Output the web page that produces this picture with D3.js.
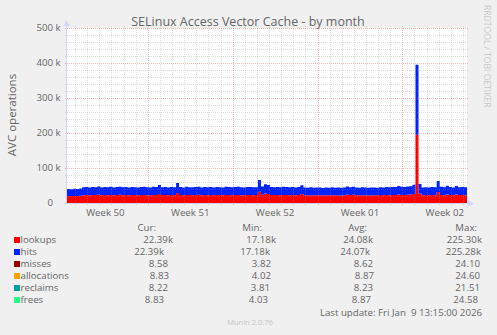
<!DOCTYPE html>
<html><head><meta charset="utf-8">
<script src="https://cdn.jsdelivr.net/npm/d3@7"></script>
<style>
html,body{margin:0;padding:0;background:#f0f0f0;}
svg{display:block;font-family:"Open Sans","Noto Sans",sans-serif;}
text{white-space:pre;}
</style></head><body><svg id="c" width="497" height="335"></svg>
<script>
// ---------- data ----------
const title = "SELinux Access Vector Cache - by month";
const yLabel = "AVC operations";
const startTime = "2025-12-08T08:00:00Z";
const endTime = "2026-01-10T08:00:00Z";
const stepHours = 6;
const yTickValues = [0, 100000, 200000, 300000, 400000, 500000];
const yTickNums = ["0", "100", "200", "300", "400", "500"];
const yTickUnits = ["", " k", " k", " k", " k", " k"];
// thousands of operations per second, one value per 6 hours
const lookups = [20.1, 19.8, 20.3, 20.0, 20.6,
  22.4, 22.8, 22.1, 23.0, 22.6, 23.4, 22.2, 22.9, 22.5, 23.1, 22.0, 22.7, 23.3, 22.4, 22.8, 22.1, 23.0, 22.6, 22.3, 22.9, 23.2, 22.5, 22.0, 23.1, 22.7,
  25.6,
  22.6, 22.9, 22.3, 23.0, 22.5,
  28.5,
  22.8, 22.2, 23.1, 22.6, 22.4, 22.9, 23.3, 22.1, 22.7, 22.5, 23.0, 22.3, 22.8, 22.6, 22.2, 23.1, 22.9, 22.4, 22.7, 23.2, 22.5, 22.0, 22.8, 23.0, 22.4, 22.6,
  32.0, 23.5, 26.8, 25.8,
  23.0, 22.6, 22.9, 22.4, 23.1, 22.7, 22.5, 23.0, 22.3, 22.8,
  25.5,
  22.1, 21.7, 22.4, 21.9, 22.0, 22.3, 21.6, 22.2, 21.8, 22.5,
  21.9, 22.2, 21.7, 22.0, 23.5, 22.6, 23.3, 22.1, 21.8, 22.4, 22.0, 21.7, 22.3, 22.1, 21.9, 22.6, 22.2, 22.8, 22.4, 23.0, 22.7, 24.3, 23.2, 22.9, 23.4, 24.0,
  26.0, 195.0, 27.0,
  22.3, 22.6, 22.1, 22.8, 22.4, 31.5, 23.2, 22.5, 24.6, 22.7, 22.3, 24.2, 22.6, 22.9, 22.4];
const hits = [20.1, 19.8, 20.3, 20.0, 20.6,
  22.4, 22.8, 22.1, 23.0, 22.6, 23.4, 22.2, 22.9, 22.5, 23.1, 22.0, 22.7, 23.3, 22.4, 22.8, 22.1, 23.0, 22.6, 22.3, 22.9, 23.2, 22.5, 22.0, 23.1, 22.7,
  25.6,
  22.6, 22.9, 22.3, 23.0, 22.5,
  28.5,
  22.8, 22.2, 23.1, 22.6, 22.4, 22.9, 23.3, 22.1, 22.7, 22.5, 23.0, 22.3, 22.8, 22.6, 22.2, 23.1, 22.9, 22.4, 22.7, 23.2, 22.5, 22.0, 22.8, 23.0, 22.4, 22.6,
  33.5, 23.5, 26.8, 25.8,
  23.0, 22.6, 22.9, 22.4, 23.1, 22.7, 22.5, 23.0, 22.3, 22.8,
  25.5,
  22.1, 21.7, 22.4, 21.9, 22.0, 22.3, 21.6, 22.2, 21.8, 22.5,
  21.9, 22.2, 21.7, 22.0, 23.5, 22.6, 23.3, 22.1, 21.8, 22.4, 22.0, 21.7, 22.3, 22.1, 21.9, 22.6, 22.2, 22.8, 22.4, 23.0, 22.7, 24.3, 23.2, 22.9, 23.4, 24.0,
  26.0, 200.0, 27.0,
  22.3, 22.6, 22.1, 22.8, 22.4, 31.5, 23.2, 22.5, 24.6, 22.7, 22.3, 24.2, 22.6, 22.9, 22.4];
const seriesNames = ["lookups", "hits", "misses", "allocations", "reclaims", "frees"];
const seriesColors = ["#ff0000", "#0022ff", "#990000", "#ffa500", "#00a0a0", "#22ff88"];
const legendHeaders = ["Cur:", "Min:", "Avg:", "Max:"];
const legendCur = ["22.39k", "22.39k", "8.58", "8.83", "8.22", "8.83"];
const legendMin = ["17.18k", "17.18k", "3.82", "4.02", "3.81", "4.03"];
const legendAvg = ["24.08k", "24.07k", "8.62", "8.87", "8.23", "8.87"];
const legendMax = ["225.30k", "225.28k", "24.10", "24.60", "21.51", "24.58"];
const lastUpdate = "Last update: Fri Jan  9 13:15:00 2026";
const watermark = "RRDTOOL / TOBI OETIKER";
const footer = "Munin 2.0.76";

// ---------- layout ----------
const X0 = 67, X1 = 467, Y0 = 203, Y1 = 28;
const FONT = "#666666";
const svg = d3.select("#c");

const t0 = new Date(startTime), t1 = new Date(endTime);
const x = d3.scaleUtc().domain([t0, t1]).range([X0, X1]);
const y = d3.scaleLinear().domain([0, 500000]).range([Y0, Y1]);

// table built from arrays
const rows = lookups.map((v, i) => ({
  t: new Date(t0.getTime() + i * stepHours * 3600e3),
  lookups: v * 1000, hits: hits[i] * 1000
}));
rows.push({t: t1, lookups: rows[rows.length - 1].lookups, hits: rows[rows.length - 1].hits});

// canvas
svg.append("rect").attr("x", X0).attr("y", Y1).attr("width", X1 - X0).attr("height", Y0 - Y1).attr("fill", "#fff");

// stacked areas
const stack = d3.stack().keys(["lookups", "hits"]);
const layers = stack(rows);
const area = d3.area().curve(d3.curveStepAfter)
  .x(d => x(d.data.t)).y0(d => y(d[0])).y1(d => y(d[1]));
svg.append("g").selectAll("path").data(layers).join("path")
  .attr("d", area).attr("fill", (d, i) => seriesColors[i]);

// grid (on top, like rrdtool)
const minorCol = "rgba(143,143,143,0.3)", majorCol = "rgba(222,79,79,0.4)";
const g = svg.append("g").attr("shape-rendering", "crispEdges");
const yMinor = y.ticks(25).filter(v => v % 100000 !== 0);
const yMajor = y.ticks(5);
const px = v => Math.round(v) + 0.5;
yMinor.forEach(v => {
  g.append("line").attr("x1", X0 - 2).attr("x2", X1 + 2).attr("y1", px(y(v))).attr("y2", px(y(v)))
    .attr("stroke", minorCol).attr("stroke-dasharray", "1,1");
});
const days = x.ticks(d3.utcDay.every(1));
const mondays = d3.utcMonday.range(t0, t1);
days.filter(d => d.getUTCDay() !== 1).forEach(d => {
  g.append("line").attr("x1", px(x(d))).attr("x2", px(x(d))).attr("y1", Y1 - 2).attr("y2", Y0 + 2)
    .attr("stroke", minorCol).attr("stroke-dasharray", "1,1");
});
yMajor.filter(v => v > 0).forEach(v => {
  g.append("line").attr("x1", X0 - 2).attr("x2", X1 + 2).attr("y1", px(y(v))).attr("y2", px(y(v)))
    .attr("stroke", majorCol).attr("stroke-dasharray", "1,1");
});
mondays.forEach(d => {
  g.append("line").attr("x1", px(x(d))).attr("x2", px(x(d))).attr("y1", Y1 - 2).attr("y2", Y0 + 3)
    .attr("stroke", majorCol).attr("stroke-dasharray", "1,1");
});

// axes
const axisCol = "#CFD6F8";
g.append("line").attr("x1", X0 - 0.5).attr("x2", X0 - 0.5).attr("y1", Y0 + 0.5).attr("y2", 24).attr("stroke", axisCol);
g.append("line").attr("x1", X0 - 2).attr("x2", 470).attr("y1", Y0 + 0.5).attr("y2", Y0 + 0.5).attr("stroke", axisCol);
svg.append("path").attr("d", `M${X0 - 3.5},26 L${X0 + 2.5},26 L${X0 - 0.5},20 Z`).attr("fill", axisCol);
svg.append("path").attr("d", `M468,200.5 L468,206.5 L474,203.5 Z`).attr("fill", axisCol);

// y tick labels
const yl = svg.append("g").attr("font-size", "9.7px").attr("fill", FONT);
yTickValues.forEach((v, i) => {
  yl.append("text").attr("x", 53).attr("y", y(v)).attr("dy", "0.35em").attr("text-anchor", "end").text(yTickNums[i]);
  yl.append("text").attr("x", 53).attr("y", y(v)).attr("dy", "0.35em").text(yTickUnits[i]);
});

// week labels, centred in each week
const fmtWeek = d3.utcFormat("Week %V");
d3.utcMonday.range(d3.utcMonday.floor(t0), t1).forEach(m => {
  const c = new Date(m.getTime() + 3.5 * 86400e3);
  const cx = x(c);
  if (cx < X0 || cx > X1) return;
  yl.append("text").attr("x", cx).attr("y", 216).attr("text-anchor", "middle").text(fmtWeek(m));
});

// title
svg.append("text").attr("x", 248).attr("y", 26).attr("text-anchor", "middle")
  .attr("font-size", "12.5px").attr("fill", FONT).text(title);
// y label
svg.append("text").attr("transform", "translate(12,115) rotate(-90)").attr("dy", "0.35em")
  .attr("text-anchor", "middle").attr("font-size", "11.5px").attr("fill", FONT).text(yLabel);
// watermark
svg.append("text").attr("transform", "translate(484,5) rotate(90)").attr("font-size", "8.6px")
  .attr("fill", "#c8c8c8").text(watermark);

// legend
const lg = svg.append("g").attr("font-size", "9.7px").attr("fill", FONT);
const headRight = [156, 262, 367, 477];
legendHeaders.forEach((h, i) => lg.append("text").attr("x", headRight[i]).attr("y", 230.5).attr("text-anchor", "end").text(h));
const colRight = [
  [173, 164, 168, 169, 168, 164],
  [276, 270, 271, 271, 270, 268],
  [373, 370, 373, 374, 373, 371],
  [482, 481, 480, 480, 480, 478]];
const cols = [legendCur, legendMin, legendAvg, legendMax];
seriesNames.forEach((n, r) => {
  const base = 243 + r * 12;
  lg.append("rect").attr("x", 14).attr("y", base - 6).attr("width", 6).attr("height", 6).attr("fill", seriesColors[r]);
  lg.append("text").attr("x", 20.5).attr("y", base).text(n);
  cols.forEach((c, ci) => lg.append("text").attr("x", colRight[ci][r]).attr("y", base).attr("text-anchor", "end").text(c[r]));
});
lg.append("text").attr("x", 482).attr("y", 315.5).attr("text-anchor", "end").text(lastUpdate);
svg.append("text").attr("x", 250).attr("y", 325).attr("text-anchor", "middle").attr("font-size", "7.5px")
  .attr("fill", "#c4c4c4").text(footer);
</script></body></html>
